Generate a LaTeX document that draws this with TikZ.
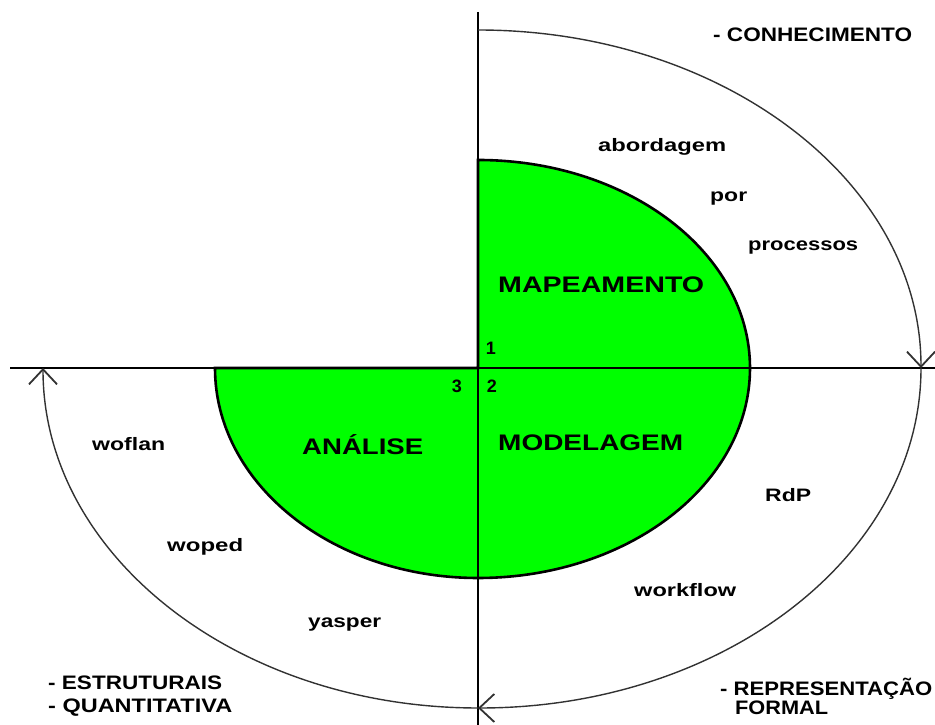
\documentclass[tikz,border=0pt]{standalone}
\usepackage{fontspec}
\setmainfont{Liberation Sans}
\usepackage{graphicx}
\usetikzlibrary{arrows.meta}
\definecolor{vivid}{RGB}{0,255,0}
\definecolor{arcgray}{RGB}{50,50,50}
\newcommand\fitw[2]{\resizebox{#1}{\height}{#2}}
\begin{document}
\begin{tikzpicture}[x=1pt,y=1pt,
  axis/.style={line width=2.6pt,black},
  cyc/.style={line width=1.4pt,arcgray,-{Straight Barb[length=15pt,width=28pt,line width=1.8pt]}},
  lbl/.style={inner sep=0pt,anchor=base west,font=\bfseries\fontsize{18}{18}\selectfont},
  capslbl/.style={inner sep=0pt,anchor=base west,font=\bfseries\fontsize{19.5}{19.5}\selectfont},
  big/.style={inner sep=0pt,anchor=base west,font=\bfseries\fontsize{22.5}{22.5}\selectfont},
  num/.style={inner sep=0pt,anchor=center,font=\bfseries\fontsize{18}{18}\selectfont}]
\useasboundingbox (0,0) rectangle (935,725);
% coordinates
\coordinate (O) at (478,357);
\coordinate (vtop) at (478,713);
\coordinate (vbot) at (478,0);
\coordinate (hl) at (10,357);
\coordinate (hr) at (935,357);
\coordinate (gtop) at (478,565);
\coordinate (k1) at (478,695);
\coordinate (k2) at (921,357);
\coordinate (k3) at (478,17);
% green region
\filldraw[fill=vivid,draw=black,line width=2.6pt]
  (gtop) arc[start angle=90,end angle=0,x radius=272pt,y radius=208pt]
  arc[start angle=0,end angle=-90,x radius=272pt,y radius=210pt]
  arc[start angle=270,end angle=180,x radius=263pt,y radius=210pt]
  -- (O) -- cycle;
% axes
\draw[axis] (vtop) -- (vbot);
\draw[axis] (hl) -- (hr);
% cycle arrows
\draw[cyc] (k1) arc[start angle=90,end angle=0,x radius=443pt,y radius=338pt];
\draw[cyc] (k2) arc[start angle=0,end angle=-90,x radius=443pt,y radius=340pt];
\draw[cyc] (k3) arc[start angle=270,end angle=180,x radius=435pt,y radius=340pt];
% labels
\node[capslbl] (conh) at (713,683) {\fitw{199pt}{- CONHECIMENTO}};
\node[lbl] (abord) at (598,573) {\fitw{128pt}{abordagem}};
\node[lbl] (por) at (710,523) {\fitw{37pt}{por}};
\node[lbl] (proc) at (748,474) {\fitw{110pt}{processos}};
\node[big] (mapa) at (498,432) {\fitw{206pt}{MAPEAMENTO}};
\node[big] (anal) at (302,270) {\fitw{121pt}{ANÁLISE}};
\node[big] (mode) at (498,274) {\fitw{185pt}{MODELAGEM}};
\node[num] (n1) at (491,377) {1};
\node[num] (n3) at (457,339) {3};
\node[num] (n2) at (492,339) {2};
\node[lbl] (wofl) at (92,274) {\fitw{73pt}{woflan}};
\node[lbl] (wope) at (167,173) {\fitw{76pt}{woped}};
\node[lbl] (yasp) at (308,97) {\fitw{73pt}{yasper}};
\node[lbl] (rdp) at (765,223) {\fitw{46pt}{RdP}};
\node[lbl] (wkfl) at (634,128) {\fitw{102pt}{workflow}};
\node[capslbl] (estr) at (48,35) {\fitw{174pt}{- ESTRUTURAIS}};
\node[capslbl] (quan) at (48,12) {\fitw{184pt}{- QUANTITATIVA}};
\node[capslbl] (repr) at (720,29) {\fitw{212pt}{- REPRESENTAÇÃO}};
\node[capslbl] (form) at (735,10) {\fitw{93pt}{FORMAL}};
\end{tikzpicture}
\end{document}
